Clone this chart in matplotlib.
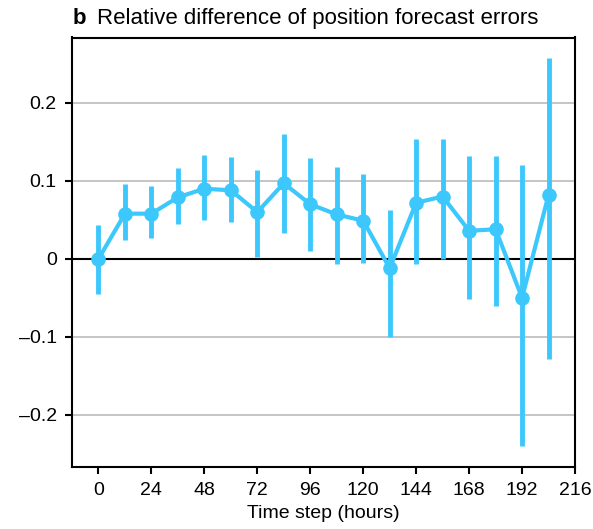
import matplotlib
matplotlib.use("Agg")
import matplotlib.pyplot as plt
import numpy as np

plt.rcParams['font.family'] = ['Liberation Sans', 'DejaVu Sans']

# time steps (hours) and relative difference with error bar ends
hours = [0, 12, 24, 36, 48, 60, 72, 84, 96, 108, 120, 132, 144, 156, 168, 180, 192, 204]
rel_diff = [0.0, 0.058, 0.058, 0.079, 0.090, 0.088, 0.060, 0.097, 0.070, 0.057,
            0.049, -0.012, 0.072, 0.080, 0.036, 0.038, -0.050, 0.082]
err_low = [-0.045, 0.024, 0.027, 0.045, 0.050, 0.047, 0.003, 0.033, 0.010, -0.006,
           -0.005, -0.100, -0.006, 0.000, -0.051, -0.060, -0.240, -0.128]
err_high = [0.043, 0.096, 0.093, 0.116, 0.133, 0.131, 0.114, 0.160, 0.129, 0.118,
            0.109, 0.063, 0.154, 0.154, 0.132, 0.132, 0.120, 0.258]

xticks = [0, 24, 48, 72, 96, 120, 144, 168, 192, 216]
yticks = [-0.2, -0.1, 0, 0.1, 0.2]
ytick_labels = ['\u20130.2', '\u20130.1', '0', '0.1', '0.2']

col = '#3cc8fc'

fig = plt.figure(figsize=(5.93, 5.29), dpi=100)
ax = fig.add_axes([72 / 593, 1 - 467 / 529, (575 - 72) / 593, (467 - 37.5) / 529])

for y in [-0.2, -0.1, 0.1, 0.2]:
    ax.axhline(y, color='#bbbbbb', lw=1.2, zorder=0)
ax.axhline(0, color='black', lw=1.5, zorder=1)

x = np.array(hours)
v = np.array(rel_diff)
ax.vlines(x, err_low, err_high, color=col, lw=3.5, zorder=2)
ax.plot(x, v, color=col, lw=3, marker='o', ms=9.5, zorder=3)

ax.set_xlim(-12, 216)
ax.set_ylim(-0.267, 0.284)
ax.set_xticks(xticks)
ax.set_yticks(yticks)
ax.set_yticklabels(ytick_labels)
ax.tick_params(direction='out', length=5, width=1.5, labelsize=14, pad=6)
for s in ax.spines.values():
    s.set_linewidth(1.5)

ax.set_xlabel('Time step (hours)', fontsize=14, labelpad=4)

# panel label + title
fig.text(73 / 593, 1 - 24 / 529, 'b', fontsize=16, fontweight='bold',
         va='baseline', ha='left')
fig.text(97 / 593, 1 - 24 / 529, 'Relative difference of position forecast errors',
         fontsize=16, va='baseline', ha='left')

fig.savefig('out.png', dpi=100)
